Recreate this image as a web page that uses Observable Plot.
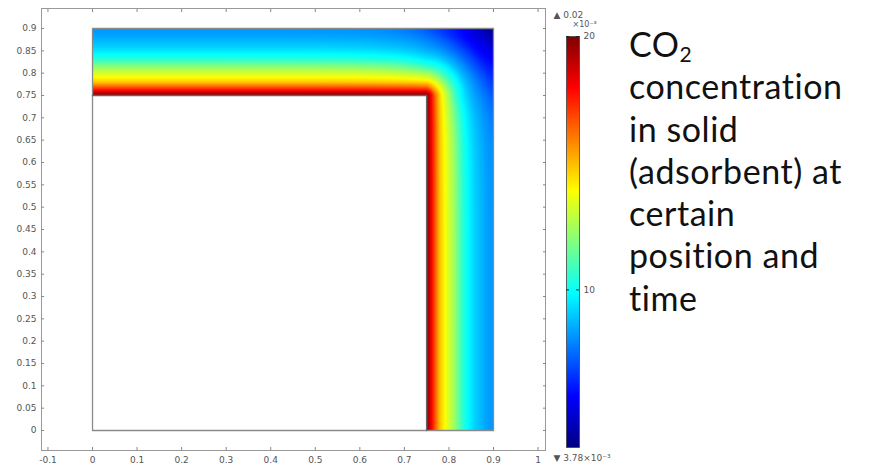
<!DOCTYPE html>
<html><head><meta charset="utf-8">
<script src="https://cdn.jsdelivr.net/npm/d3@7"></script>
<script src="https://cdn.jsdelivr.net/npm/@observablehq/plot@0.6"></script>
<style>
html,body{margin:0;padding:0;background:#fff;}
#wrap{position:relative;width:879px;height:466px;overflow:hidden;background:#fff;}
#main{position:absolute;left:0;top:0;}
#bar{position:absolute;left:540px;top:0;}
#note{position:absolute;left:629px;top:23px;font-family:Lato,"Open Sans",sans-serif;font-size:34px;letter-spacing:0.55px;line-height:42.3px;color:#111;white-space:nowrap;font-variant-ligatures:none;font-feature-settings:"liga" 0;}
#note div{height:42.3px;}
#note sub{font-size:21px;line-height:0;vertical-align:-5px;}
</style></head><body>
<div id="wrap"><div id="main"></div><div id="bar"></div><div id="note"></div></div>
<script>
// ---- tick labels ----
const xTicks = [-0.1, 0, 0.1, 0.2, 0.3, 0.4, 0.5, 0.6, 0.7, 0.8, 0.9, 1];
const yTicks = [0, 0.05, 0.1, 0.15, 0.2, 0.25, 0.3, 0.35, 0.4, 0.45, 0.5, 0.55, 0.6, 0.65, 0.7, 0.75, 0.8, 0.85, 0.9];
const barTicks = [10, 20];
const barTopLabel = "▲ 0.02";
const barUnitLabel = "×10⁻³";
const barBottomLabel = "▼ 3.78×10⁻³";
const concMin = 3.78, concMax = 20; // ×10⁻³

// ---- geometry of the L-shaped adsorbent domain ----
const wallPos = 0.75;   // inner wall (x = 0.75 and y = 0.75)
const outerPos = 0.9;   // outer edge
const outerSquare = [{x: 0, y: 0}, {x: 0.9, y: 0}, {x: 0.9, y: 0.9}, {x: 0, y: 0.9}, {x: 0, y: 0}];
const innerWall = [{x: 0.75, y: 0}, {x: 0.75, y: 0.75}, {x: 0, y: 0.75}];
const innerBlock = [{x1: 0, x2: 0.75, y1: 0, y2: 0.75}];

// ---- concentration profiles (×10⁻³) ----
// across a straight arm, distance from the inner wall
const armOffsets = [0, 0.01, 0.02, 0.03, 0.04, 0.05, 0.06, 0.07, 0.08, 0.09, 0.10, 0.11, 0.12, 0.13, 0.14, 0.15];
const armProfile = [20, 18.2, 16.4, 14.8, 14.0, 13.2, 12.5, 11.6, 10.6, 10.0, 9.5, 9.1, 8.8, 8.5, 8.3, 8.2];
// along the line where an arm meets the corner square (y = 0.75 / x = 0.75)
const cornerLineProfile = [20, 18.05, 16.1, 14.5, 13.35, 12.4, 11.2, 10.3, 9.6, 9.1, 8.65, 8.3, 8.0, 7.7, 7.4, 7.2];
// along the diagonal from the inner corner (0.75,0.75) to the outer corner (0.9,0.9)
const diagOffsets = [0, 0.01, 0.02, 0.03, 0.04, 0.05, 0.06, 0.07, 0.08, 0.09, 0.10, 0.11, 0.12, 0.13, 0.14, 0.15, 0.16, 0.17, 0.18, 0.19, 0.20, 0.21];
const diagProfile = [20, 17.9, 15.6, 14.2, 13.0, 11.9, 10.9, 10.1, 9.5, 8.8, 8.3, 7.8, 7.3, 6.9, 6.4, 6.0, 5.7, 5.4, 5.1, 4.75, 4.4, 4.0];

// ---- text beside the chart ----
const noteLines = ["CO<sub>2</sub>", "concentration", "in solid", "(adsorbent) at", "certain", "position and", "time"];

// lookups (library interpolation between the read values)
const armAt = d3.scaleLinear(armOffsets, armProfile).clamp(true);
const lineAt = d3.scaleLinear(armOffsets, cornerLineProfile).clamp(true);
const diagAt = d3.scaleLinear(diagOffsets, diagProfile).clamp(true);

function conc(x, y) {
  const dx = x - wallPos, dy = y - wallPos;
  if (dx < 0 && dy < 0) return NaN;
  if (dx >= 0 && dy >= 0) {
    const r = Math.hypot(dx, dy);
    const w = Math.sin(2 * Math.atan2(dy, dx));
    return (1 - w) * lineAt(r) + w * diagAt(r);
  }
  const u = dx >= 0 ? dx : dy;
  const s = dx >= 0 ? -dy : -dx;
  const k = Math.exp(-s / 0.06);
  return armAt(u) + k * (lineAt(u) - armAt(u));
}

const jet = d3.piecewise(d3.interpolateRgb, ["#000080", "#0000ff", "#0080ff", "#00ffff", "#80ff80", "#ffff00", "#ff8000", "#ff0000", "#800000"]);
const colorScale = {type: "linear", domain: [concMin, concMax], interpolate: jet, clamp: true};
const blank = () => "";

const main = Plot.plot({
  width: 560, height: 466,
  marginLeft: 41, marginRight: 15, marginTop: 8, marginBottom: 16,
  x: {domain: [-0.1145, 1.0167]},
  y: {domain: [-0.0448, 0.9448]},
  color: colorScale,
  style: {fontFamily: "DejaVu Sans", fontSize: "9px", color: "#555", background: "white"},
  marks: [
    Plot.raster({fill: conc, x1: 0, x2: outerPos, y1: 0, y2: outerPos}),
    Plot.rect(innerBlock, {x1: "x1", x2: "x2", y1: "y1", y2: "y2", fill: "white"}),
    Plot.line(outerSquare, {x: "x", y: "y", stroke: "#8a8a8a", strokeWidth: 1.3}),
    Plot.line(innerWall, {x: "x", y: "y", stroke: "#666", strokeWidth: 1.5}),
    Plot.frame({stroke: "#999"}),
    Plot.axisX(xTicks, {tickSize: 0, tickPadding: 6, tickFormat: d => String(d), label: null, fill: "#555"}),
    Plot.axisX(xTicks, {tickSize: 3, dy: -3, tickFormat: blank, label: null, stroke: "#888"}),
    Plot.axisX(xTicks, {anchor: "top", tickSize: 3, dy: 3, tickFormat: blank, label: null, stroke: "#888"}),
    Plot.axisY(yTicks, {tickSize: 0, tickPadding: 5, tickFormat: d => String(d), label: null, fill: "#555"}),
    Plot.axisY(yTicks, {tickSize: 3, dx: 3, tickFormat: blank, label: null, stroke: "#888"}),
    Plot.axisY(yTicks, {anchor: "right", tickSize: 3, dx: -3, tickFormat: blank, label: null, stroke: "#888"})
  ]
});
document.getElementById("main").appendChild(main);

const bar = Plot.plot({
  width: 80, height: 466,
  marginLeft: 26, marginRight: 41, marginTop: 36, marginBottom: 19,
  x: {domain: [0, 1], axis: null},
  y: {domain: [concMin, concMax]},
  color: colorScale,
  style: {fontFamily: "DejaVu Sans", fontSize: "8px", color: "#555", background: "transparent", overflow: "visible"},
  marks: [
    Plot.raster({fill: (x, y) => y, x1: 0, x2: 1, y1: concMin, y2: concMax}),
    Plot.frame({stroke: "#444", strokeWidth: 0.8}),
    Plot.tickY(barTicks, {stroke: "#222", insetRight: 10}),
    Plot.tickY(barTicks, {stroke: "#222", insetLeft: 10}),
    Plot.axisY(barTicks, {anchor: "right", tickSize: 0, tickPadding: 4, label: null, fontSize: 9}),
    Plot.text([barTopLabel], {frameAnchor: "top-left", dx: -13, dy: -25, textAnchor: "start", fontSize: 9, fill: "#555"}),
    Plot.text([barUnitLabel], {frameAnchor: "top-left", dx: 6, dy: -15, textAnchor: "start", fontSize: 8, fill: "#555"}),
    Plot.text([barBottomLabel], {frameAnchor: "bottom-left", dx: -13, dy: 13, textAnchor: "start", fontSize: 9, fill: "#555"})
  ]
});
document.getElementById("bar").appendChild(bar);

document.getElementById("note").innerHTML = noteLines.map(l => `<div>${l}</div>`).join("");
</script>
</body></html>
